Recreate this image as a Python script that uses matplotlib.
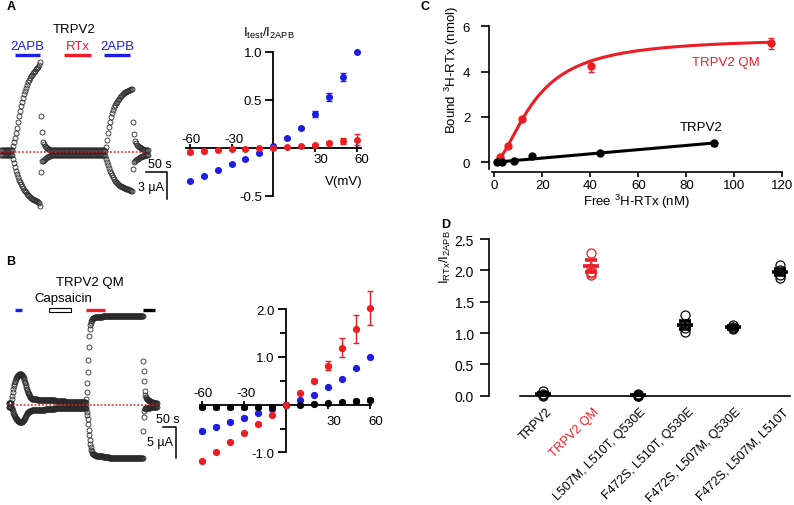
import numpy as np
import matplotlib
matplotlib.use('Agg')
import matplotlib.pyplot as plt
from matplotlib.patches import Rectangle
import matplotlib.transforms as mtransforms

# ======================= DATA =======================
# Panel A trace (TRPV2): currents (uA) at +60 and -60 mV, uniform sampling
trace_A_dt = 2.38          # s per sample
trace_A_t0 = 2.38
trace_A_pos = ([0.22] * 12
               + [0.67, 1.11, 1.56, 2.11, 2.67, 3.33, 4.0, 4.56, 5.11, 5.56, 6.0, 6.44, 6.78, 7.11,
                  7.44, 7.78, 8.0, 8.22, 8.44, 8.56, 8.78, 8.89, 9.0, 9.22, 9.33, 9.44, 9.67, 10.0]
               + [4.0, 2.22, 1.11, 0.89, 0.67, 0.56, 0.44, 0.33, 0.28, 0.22]
               + [0.22] * 54
               + [0.11, 0.56, 1.33, 2.11, 2.78, 3.33, 3.89, 4.33, 4.67, 5.0, 5.22, 5.44, 5.61, 5.78,
                  5.94, 6.11, 6.22, 6.33, 6.44, 6.56, 6.67, 6.72, 6.78, 6.83, 6.89, 6.92, 6.97, 7.0]
               + [3.33, 2.0, 1.22, 1.0, 0.83, 0.72, 0.61, 0.52, 0.44, 0.37, 0.31, 0.27, 0.22, 0.22,
                  0.22, 0.22])
trace_A_neg = ([-0.33] * 12
               + [-0.78, -1.22, -1.67, -2.11, -2.44, -2.78, -3.11, -3.33, -3.56, -3.78, -4.0, -4.17,
                  -4.33, -4.5, -4.67, -4.78, -4.89, -5.0, -5.11, -5.17, -5.22, -5.28, -5.33, -5.39,
                  -5.44, -5.56, -5.67, -6.0]
               + [-2.22, -1.0, -1.0, -0.89, -0.78, -0.67, -0.59, -0.5, -0.44, -0.39]
               + [-0.33] * 54
               + [-0.44, -0.78, -1.11, -1.44, -1.78, -2.06, -2.33, -2.56, -2.78, -3.0, -3.17, -3.33,
                  -3.44, -3.56, -3.67, -3.74, -3.81, -3.89, -3.94, -4.0, -4.03, -4.08, -4.11, -4.16,
                  -4.2, -4.24, -4.29, -4.33]
               + [-1.89, -1.11, -1.0, -0.89, -0.81, -0.73, -0.67, -0.6, -0.54, -0.49, -0.44, -0.4,
                  -0.37, -0.33, -0.33, -0.33])
A_stim_names = ['2APB', 'RTx', '2APB']
A_stim_start = [35.7, 152.4, 247.6]   # s
A_stim_end = [95.2, 216.7, 309.5]

# Panel B trace (TRPV2 QM)
trace_B_dt = 1.923
trace_B_t0 = 34.6
trace_B_pos = ([0.35] * 6
               + [0.92, 1.4, 2.05, 2.53, 3.02, 3.34, 3.66, 3.9, 4.15, 4.31, 4.47, 4.63, 4.71, 4.79,
                  4.87, 4.92, 4.95, 4.95, 4.95, 4.92, 4.87, 4.79, 4.63, 4.47, 4.23, 3.98, 3.74, 3.5,
                  3.18, 2.85, 2.61, 2.37, 2.13, 1.89, 1.73, 1.56, 1.4, 1.27, 1.16, 1.08, 1.0]
               + [0.9] * 10 + [0.8] * 16 + [0.7] * 20 + [0.6] * 20 + [0.5] * 20 + [0.4] * 21
               + [0.27, 0.92, 2.05, 3.5, 5.27, 7.21, 9.31, 11.08, 12.21, 12.85, 13.26, 13.55, 13.74,
                  13.89]
               + [14.0] * 4 + [14.1] * 6 + [14.2] * 10 + [14.25] * 81
               + [7.1, 5.48, 3.87, 2.26, 1.56]
               + [1.24, 1.12, 1.0, 0.92, 0.84, 0.77, 0.71, 0.65, 0.6, 0.55, 0.5, 0.47, 0.44, 0.4,
                  0.37, 0.35, 0.34, 0.32, 0.31, 0.3, 0.29, 0.28, 0.28])
trace_B_neg = ([-0.4] * 6
               + [-0.53, -0.77, -1.02, -1.26, -1.5, -1.66, -1.82, -1.98, -2.15, -2.26, -2.35, -2.47,
                  -2.55, -2.63, -2.68, -2.73, -2.76, -2.79, -2.79, -2.79, -2.76, -2.71, -2.63, -2.55,
                  -2.42, -2.31, -2.15, -1.98, -1.82, -1.66, -1.5, -1.37, -1.26, -1.18, -1.1, -1.05,
                  -1.02, -0.98, -0.95, -0.94, -0.92]
               + [-0.9] * 10 + [-0.8] * 16 + [-0.7] * 20 + [-0.6] * 28 + [-0.5] * 33
               + [-0.37, -0.69, -1.18, -1.66, -2.31, -3.11, -4.0, -4.89, -5.69, -6.34, -6.82, -7.23,
                  -7.52, -7.73]
               + [-7.9] * 3 + [-8.05] * 4 + [-8.2] * 6 + [-8.35] * 8 + [-8.5] * 12 + [-8.6] * 68
               + [-4.19, -2.03, -1.02, -0.69, -0.61]
               + [-0.58, -0.56, -0.54, -0.52, -0.5, -0.49, -0.48, -0.47, -0.46, -0.45, -0.44, -0.43,
                  -0.42, -0.42, -0.41, -0.41, -0.4, -0.4, -0.4, -0.4, -0.4, -0.4, -0.4])
B_stim_start = [57.7, 188.5, 330.8, 550.0]
B_stim_end = [84.6, 273.0, 403.8, 596.0]

# I-V data (normalized)
V = [-60, -50, -40, -30, -20, -10, 0, 10, 20, 30, 40, 50, 60]
A_2apb = [-0.34, -0.29, -0.23, -0.17, -0.115, -0.055, 0.02, 0.10, 0.205, 0.35, 0.53, 0.74, 1.0]
A_2apb_err = [0.01, 0.01, 0.01, 0.01, 0.01, 0.01, 0.0, 0.01, 0.01, 0.03, 0.04, 0.04, 0.0]
A_rtx = [-0.045, -0.035, -0.02, -0.015, -0.01, -0.005, 0.0, 0.007, 0.017, 0.03, 0.05, 0.075, 0.087]
A_rtx_err = [0.02, 0.015, 0.01, 0.01, 0.01, 0.01, 0.0, 0.005, 0.005, 0.01, 0.02, 0.03, 0.055]

B_2apb = [-0.55, -0.46, -0.36, -0.27, -0.18, -0.09, 0.0, 0.09, 0.21, 0.36, 0.54, 0.76, 1.0]
B_2apb_err = [0.04, 0.03, 0.03, 0.03, 0.02, 0.02, 0.0, 0.01, 0.01, 0.01, 0.01, 0.01, 0.0]
B_rtx = [-1.17, -0.98, -0.79, -0.60, -0.40, -0.21, 0.0, 0.24, 0.50, 0.82, 1.19, 1.58, 2.02]
B_rtx_err = [0.02, 0.02, 0.02, 0.02, 0.02, 0.02, 0.0, 0.02, 0.03, 0.1, 0.2, 0.29, 0.35]
B_caps = [-0.055, -0.055, -0.05, -0.05, -0.05, -0.04, 0.0, 0.0, 0.02, 0.035, 0.05, 0.07, 0.1]
B_caps_err = [0.03, 0.03, 0.03, 0.03, 0.03, 0.03, 0.0, 0.02, 0.02, 0.02, 0.03, 0.04, 0.04]

# Panel C binding
C_qm_x = [2.3, 5.8, 11.4, 40.2, 115.3]
C_qm_y = [0.22, 0.73, 1.93, 4.25, 5.25]
C_qm_err = [0.04, 0.08, 0.08, 0.25, 0.24]
C_wt_x = [1.0, 3.0, 8.0, 15.8, 44.0, 91.5]
C_wt_y = [0.0, 0.02, 0.05, 0.28, 0.42, 0.83]
C_wt_err = [0.03, 0.03, 0.03, 0.04, 0.05, 0.12]
qm_Bmax, qm_Kd, qm_n = 5.5, 17.0, 1.7
wt_slope = 0.0093

# Panel D
D_labels = ['TRPV2', 'TRPV2 QM', 'L507M, L510T, Q530E', 'F472S, L510T, Q530E',
            'F472S, L507M, Q530E', 'F472S, L507M, L510T']
D_points = [[0.08, 0.03, 0.01, 0.0],
            [2.27, 2.03, 1.98, 1.95, 1.92],
            [0.02, 0.01, 0.0, 0.0, 0.01],
            [1.28, 1.15, 1.08, 1.02],
            [1.13, 1.10, 1.08, 1.06],
            [2.09, 2.01, 1.93, 1.87]]
D_mean = [0.03, 2.07, 0.01, 1.13, 1.09, 1.97]
D_err = [0.02, 0.10, 0.005, 0.06, 0.02, 0.05]

# ======================= FIGURE =======================
plt.rcParams['font.family'] = ['Liberation Sans', 'DejaVu Sans']
plt.rcParams['mathtext.fontset'] = 'custom'
plt.rcParams['mathtext.rm'] = 'Liberation Sans'
plt.rcParams['mathtext.it'] = 'Liberation Sans:italic'
plt.rcParams['mathtext.default'] = 'regular'

RED = '#ee1d23'
BLUE = '#1c1ce6'
TRACE = '#2a2a2a'
W, H = 794, 506
fig = plt.figure(figsize=(W / 100, H / 100), dpi=100)


def ax_px(x0, y0, x1, y1):
    return fig.add_axes([x0 / W, 1 - y1 / H, (x1 - x0) / W, (y1 - y0) / H])


def ftext(x, y, s, **kw):
    fig.text(x / W, 1 - y / H, s, **kw)


# ---------- Trace A ----------
axA = ax_px(0, 40, 175, 215)
axA.set_xlim(0, 416.7)
axA.set_ylim(-6.89, 12.56)
axA.axis('off')
tA = trace_A_t0 + np.arange(len(trace_A_pos)) * trace_A_dt
for y in (trace_A_pos, trace_A_neg):
    axA.plot(tA, y, 'o', ms=3.6, mfc='none', mec=TRACE, mew=0.6, clip_on=False)
axA.plot([0, tA[-1]], [0, 0], color=RED, ls=(0, (1.2, 1.2)), lw=1.1)
for name, t0, t1 in zip(A_stim_names, A_stim_start, A_stim_end):
    col = BLUE if name == '2APB' else RED
    axA.plot([t0, t1], [10.78, 10.78], color=col, lw=2.4, solid_capstyle='butt', clip_on=False)
    axA.text((t0 + t1) / 2, 11.75, name, color=col, ha='center', va='center', fontsize=9.5)
axA.text(176, 13.67, 'TRPV2', ha='center', va='center', fontsize=9.5)
# scale bars
axA.plot([347.6, 397.6, 397.6], [-2.22, -2.22, -5.22], color='black', lw=1.1, clip_on=False)
axA.text(379.8, -1.35, '50 s', ha='center', va='center', fontsize=9)
axA.text(391, -3.9, '3 µA', ha='right', va='center', fontsize=9)

# ---------- Trace B ----------
axB = ax_px(0, 270, 185, 470)
axB.set_xlim(0, 711.5)
axB.set_ylim(-10.37, 21.89)
axB.axis('off')
tB = trace_B_t0 + np.arange(len(trace_B_pos)) * trace_B_dt
for y in (trace_B_pos, trace_B_neg):
    axB.plot(tB, y, 'o', ms=3.6, mfc='none', mec=TRACE, mew=0.6, clip_on=False)
axB.plot([tB[0], tB[-1]], [0, 0], color=RED, ls=(0, (1.2, 1.2)), lw=1.1)
b_cols = [BLUE, None, RED, 'black']
for col, t0, t1 in zip(b_cols, B_stim_start, B_stim_end):
    if col is None:
        axB.add_patch(Rectangle((t0, 15.3 - 0.27), t1 - t0, 0.54, fc='white', ec='black',
                                lw=0.8, clip_on=False))
    else:
        axB.plot([t0, t1], [15.3, 15.3], color=col, lw=2.4, solid_capstyle='butt', clip_on=False)
axB.text(346, 19.87, 'TRPV2 QM', ha='center', va='center', fontsize=9.5)
axB.text(242, 17.25, 'Capsaicin', ha='center', va='center', fontsize=9.5)
axB.plot([626.9, 676.9, 676.9], [-3.55, -3.55, -8.55], color='black', lw=1.1, clip_on=False)
axB.text(646, -2.3, '50 s', ha='center', va='center', fontsize=9)
axB.text(665, -6.06, '5 µA', ha='right', va='center', fontsize=9)


# ---------- IV helper ----------
def iv_axes(x0, y0, x1, y1, xlim, ylim):
    ax = ax_px(x0, y0, x1, y1)
    ax.set_xlim(xlim)
    ax.set_ylim(ylim)
    ax.patch.set_visible(False)
    for s in ['top', 'right']:
        ax.spines[s].set_visible(False)
    ax.spines['left'].set_position(('data', 0))
    ax.spines['bottom'].set_position(('data', 0))
    ax.spines['left'].set_linewidth(1.3)
    ax.spines['bottom'].set_linewidth(1.3)
    ax.tick_params(axis='y', direction='out', length=6, width=1.3, labelsize=9.5, pad=2)
    ax.tick_params(axis='y', which='minor', direction='out', length=4.5, width=1.3)
    ax.set_xticks([-60, -30, 30, 60])
    ax.set_xticklabels([])
    ax.tick_params(axis='x', direction='inout', length=6, width=1.3)
    return ax


def iv_xlabels(ax, up_off, down_off):
    tr_up = mtransforms.offset_copy(ax.transData, fig=fig, y=up_off, units='dots')
    tr_dn = mtransforms.offset_copy(ax.transData, fig=fig, y=-down_off, units='dots')
    for v, s in [(-59, '-60'), (-28.5, '-30')]:
        ax.text(v, 0, s, transform=tr_up, ha='center', va='center', fontsize=9.5)
    for v, s in [(34, '30'), (64, '60')]:
        ax.text(v, 0, s, transform=tr_dn, ha='center', va='center', fontsize=9.5)


# ---------- IV A ----------
axIA = iv_axes(180, 40, 370, 215, (-67.1, 69.6), (-0.6875, 1.135))
axIA.spines['left'].set_bounds(-0.5, 1.0)
axIA.spines['bottom'].set_bounds(-63, 63)
axIA.set_yticks([-0.5, 0.5, 1.0])
axIA.set_yticklabels(['-0.5', '0.5', '1.0'])
axIA.errorbar(V, A_2apb, yerr=A_2apb_err, fmt='o', color=BLUE, ms=4, capsize=2, elinewidth=1,
              capthick=1, clip_on=False, zorder=3)
axIA.errorbar(V, A_rtx, yerr=A_rtx_err, fmt='o', color=RED, ms=4, capsize=2, elinewidth=1,
              capthick=1, clip_on=False, zorder=4)
iv_xlabels(axIA, 9, 11)
ftext(269, 33, r'$I_{test}/I_{2APB}$', ha='center', va='center', fontsize=9.5)
ftext(344, 182, 'V(mV)', ha='center', va='center', fontsize=9.5)

# ---------- IV B ----------
axIB = iv_axes(190, 295, 385, 475, (-68.4, 70.9), (-1.45, 2.316))
axIB.spines['left'].set_bounds(-1.0, 2.0)
axIB.spines['bottom'].set_bounds(-61, 61)
axIB.set_yticks([-1.0, 1.0, 2.0])
axIB.set_yticklabels(['-1.0', '1.0', '2.0'])
axIB.set_yticks([-0.5, 0.5, 1.5], minor=True)
axIB.errorbar(V, B_2apb, yerr=B_2apb_err, fmt='o', color=BLUE, ms=4.2, capsize=2, elinewidth=1,
              capthick=1, clip_on=False, zorder=3)
axIB.errorbar(V, B_caps, yerr=B_caps_err, fmt='o', color='black', ms=4.2, capsize=2, elinewidth=1,
              capthick=1, clip_on=False, zorder=4)
axIB.errorbar(V, B_rtx, yerr=B_rtx_err, fmt='o', color=RED, ms=4.2, capsize=2.5, elinewidth=1,
              capthick=1, clip_on=False, zorder=5)
iv_xlabels(axIB, 12, 16)

# ---------- Panel C ----------
axC = ax_px(489, 20, 790, 173.3)
axC.set_xlim(-2.21, 123.2)
axC.set_ylim(-0.441, 6.32)
axC.patch.set_visible(False)
for s in ['top', 'right']:
    axC.spines[s].set_visible(False)
axC.spines['left'].set_bounds(-0.3, 6)
axC.spines['bottom'].set_bounds(-1, 120)
for s in ['left', 'bottom']:
    axC.spines[s].set_linewidth(1.2)
axC.set_xticks([0, 20, 40, 60, 80, 100, 120])
axC.set_yticks([0, 2, 4, 6])
axC.tick_params(axis='x', direction='out', length=3.5, width=1.2, labelsize=9.5, pad=1)
axC.tick_params(axis='y', direction='out', length=5.5, width=1.2, labelsize=9.5, pad=8)
xq = np.linspace(1.7, 115.3, 300)
axC.plot(xq, qm_Bmax * xq ** qm_n / (qm_Kd ** qm_n + xq ** qm_n), color=RED, lw=2.2)
xw = np.array([1.0, 92.0])
axC.plot(xw, wt_slope * xw, color='black', lw=2.2)
axC.errorbar(C_qm_x, C_qm_y, yerr=C_qm_err, fmt='o', color=RED, ms=5, capsize=2.5, elinewidth=1,
             capthick=1)
axC.errorbar(C_wt_x, C_wt_y, yerr=C_wt_err, fmt='o', color='black', ms=5, capsize=2.5,
             elinewidth=1, capthick=1)
ftext(725.5, 63, 'TRPV2 QM', color=RED, ha='center', va='center', fontsize=9.5)
ftext(701, 128, 'TRPV2', ha='center', va='center', fontsize=9.5)
ftext(636.7, 202, r'Free $^{3}$H-RTx (nM)', ha='center', va='center', fontsize=9.5)
ftext(452, 70, r'Bound $^{3}$H-RTx (nmol)', ha='center', va='center', fontsize=9.5, rotation=90)

# ---------- Panel D ----------
axD = ax_px(489, 235, 792, 400)
axD.set_xlim(-1.15, 5.25)
axD.set_ylim(-0.053, 2.58)
axD.patch.set_visible(False)
for s in ['top', 'right']:
    axD.spines[s].set_visible(False)
axD.spines['bottom'].set_position(('data', 0))
axD.spines['bottom'].set_bounds(-0.5, 5.2)
axD.spines['left'].set_bounds(0, 2.5)
for s in ['left', 'bottom']:
    axD.spines[s].set_linewidth(1.2)
axD.set_yticks([0, 0.5, 1.0, 1.5, 2.0, 2.5])
axD.set_yticklabels(['0.0', '0.5', '1.0', '1.5', '2.0', '2.5'])
axD.tick_params(axis='y', direction='out', length=6.5, width=1.2, labelsize=10, pad=4.5)
axD.set_xticks(range(len(D_labels)))
axD.set_xticklabels(D_labels, rotation=45, ha='right', va='top', rotation_mode='anchor',
                    fontsize=9)
axD.tick_params(axis='x', length=0, pad=7)
off = mtransforms.ScaledTranslation(2 / 100, 0, fig.dpi_scale_trans)
for i, lab in enumerate(axD.get_xticklabels()):
    lab.set_transform(lab.get_transform() + off)
    if i == 1:
        lab.set_color(RED)
for i, pts in enumerate(D_points):
    col = RED if i == 1 else 'black'
    axD.plot([i] * len(pts), pts, 'o', ms=6.5, mfc='none', mec=col, mew=0.9, clip_on=False, zorder=3)
    axD.errorbar(i, D_mean[i], yerr=D_err[i], fmt='_', color=col, ms=12, mew=2.6, capsize=4.5,
                 elinewidth=1.2, capthick=1.2, zorder=4, clip_on=False)
ftext(445, 257, r'$I_{RTx}/I_{2APB}$', ha='center', va='center', fontsize=9.5, rotation=90)

# ---------- panel letters ----------
for x, y, s in [(11, 7, 'A'), (11, 262, 'B'), (425, 7, 'C'), (446, 225, 'D')]:
    ftext(x, y, s, ha='center', va='center', fontsize=9, fontweight='bold')

fig.savefig('out.png', dpi=100)
